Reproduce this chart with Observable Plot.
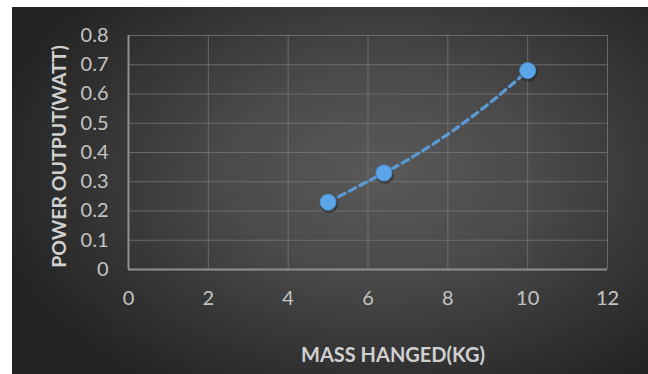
<!DOCTYPE html>
<html>
<head>
<meta charset="utf-8">
<script src="https://cdn.jsdelivr.net/npm/d3@7"></script>
<script src="https://cdn.jsdelivr.net/npm/@observablehq/plot@0.6"></script>
<style>
  html, body { margin: 0; padding: 0; background: #ffffff; }
  #chart {
    position: absolute; left: 12px; top: 7px; width: 636px; height: 367px;
    background: radial-gradient(ellipse 62% 70% at 58% 45%, #595959 0%, #4a4a4a 40%, #333333 75%, #242424 100%);
    overflow: hidden;
  }
  #chart svg { display: block; background: transparent; }
</style>
</head>
<body>
<div id="chart"></div>
<script>
// Measured power output against hanged mass
const massKg = [5, 6.4, 10];
const powerWatt = [0.23, 0.33, 0.68];

// Axis ticks and their labels
const xTicks = [0, 2, 4, 6, 8, 10, 12];
const xTickLabels = ["0", "2", "4", "6", "8", "10", "12"];
const yTicks = [0, 0.1, 0.2, 0.3, 0.4, 0.5, 0.6, 0.7, 0.8];
const yTickLabels = ["0", "0.1", "0.2", "0.3", "0.4", "0.5", "0.6", "0.7", "0.8"];

const xTitle = "MASS HANGED(KG)";
const yTitle = "POWER OUTPUT(WATT)";

const points = massKg.map((m, i) => ({mass: m, power: powerWatt[i]}));

const tickColor = "#c4c4c4";
const titleColor = "#d0d0d0";
const gridColor = "#7a7a7a";
const axisColor = "#8f8f8f";
const seriesColor = "#5b9bd5";

// Smoothed connector: the first segment is straight, each following segment is a
// quadratic that continues the tangent of the previous one (C1-continuous).
function quadraticSpline(context) {
  let pts = [];
  return {
    areaStart() {}, areaEnd() {},
    lineStart() { pts = []; },
    point(x, y) { pts.push([+x, +y]); },
    lineEnd() {
      if (!pts.length) return;
      context.moveTo(pts[0][0], pts[0][1]);
      let slope = null;
      for (let i = 1; i < pts.length; i++) {
        const [x0, y0] = pts[i - 1], [x1, y1] = pts[i];
        if (slope === null) {
          context.lineTo(x1, y1);
          slope = (y1 - y0) / (x1 - x0);
        } else {
          const cx = (x0 + x1) / 2, cy = y0 + slope * (cx - x0);
          context.quadraticCurveTo(cx, cy, x1, y1);
          slope = (y1 - cy) / (x1 - cx);
        }
      }
    }
  };
}

const chart = Plot.plot({
  width: 636,
  height: 367,
  marginLeft: 116,
  marginRight: 41,
  marginTop: 28,
  marginBottom: 105,
  style: {background: "transparent", fontFamily: "Lato, 'Open Sans', sans-serif"},
  x: {domain: [0, 12]},
  y: {domain: [0, 0.8]},
  marks: [
    Plot.gridX(xTicks, {stroke: gridColor, strokeOpacity: 0.75, strokeWidth: 1}),
    Plot.gridY(yTicks, {stroke: gridColor, strokeOpacity: 0.75, strokeWidth: 1}),
    Plot.ruleX([0], {stroke: axisColor, strokeWidth: 2}),
    Plot.ruleY([0], {stroke: axisColor, strokeWidth: 2}),
    Plot.axisX(xTicks, {
      tickSize: 0, tickPadding: 21, fontSize: 20, color: tickColor, label: null,
      tickFormat: (d, i) => xTickLabels[i]
    }),
    Plot.axisY(yTicks, {
      tickSize: 0, tickPadding: 20, fontSize: 20, color: tickColor, label: null,
      tickFormat: (d, i) => yTickLabels[i]
    }),
    Plot.line(points, {
      x: "mass", y: "power", curve: quadraticSpline,
      stroke: seriesColor, strokeWidth: 3.2, strokeDasharray: "7,5"
    }),
    // soft shadow under each marker
    Plot.dot(points, {x: "mass", y: "power", r: 9, fill: "#1a1a1a", fillOpacity: 0.45, dx: 1, dy: 2}),
    Plot.dot(points, {x: "mass", y: "power", r: 8, fill: "#5ba6ea", stroke: "#4a8fd0", strokeWidth: 1}),
    Plot.text([xTitle], {
      frameAnchor: "bottom", dx: 25, dy: 92, fontSize: 20, fontWeight: "bold",
      fill: titleColor, text: d => d, textAnchor: "middle"
    }),
    Plot.text([yTitle], {
      frameAnchor: "left", dx: -69, dy: 4, rotate: -90, fontSize: 19.5, fontWeight: "bold",
      fill: titleColor, text: d => d, textAnchor: "middle"
    })
  ]
});

document.getElementById("chart").appendChild(chart);
</script>
</body>
</html>
